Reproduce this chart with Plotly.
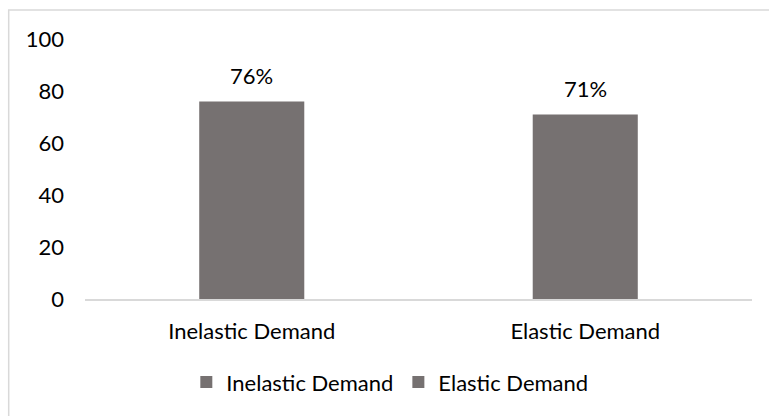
import plotly.graph_objects as go

categories = ["Inelastic Demand", "Elastic Demand"]
values = [76, 71]
y_ticks = [0, 20, 40, 60, 80, 100]

BAR_COLOR = "#767171"
FONT = "Lato"

fig = go.Figure()
for cat, val in zip(categories, values):
    fig.add_trace(go.Bar(
        x=[cat], y=[val], name=cat,
        marker=dict(color=BAR_COLOR, line=dict(width=0)),
        width=0.315,
    ))
    fig.add_annotation(x=cat, y=val, text=f"{val}%", showarrow=False,
                       yanchor="bottom", yshift=10,
                       font=dict(family=FONT, size=22, color="#000000"))

fig.update_layout(
    width=769, height=416,
    margin=dict(l=85, r=17, t=39, b=117),
    paper_bgcolor="white", plot_bgcolor="white",
    barmode="overlay",
    font=dict(family=FONT, size=22, color="#000000"),
    showlegend=True,
    legend=dict(orientation="h", x=0.457, xanchor="center", y=-0.32, yanchor="middle",
                font=dict(family=FONT, size=22, color="#000000"),
                itemwidth=30, tracegroupgap=0),
    xaxis=dict(categoryorder="array", categoryarray=categories,
               showline=True, linecolor="#d9d9d9", linewidth=1.5,
               showgrid=False, ticks="", ticklabelstandoff=12,
               tickfont=dict(family=FONT, size=22, color="#000000"),
               zeroline=False),
    yaxis=dict(range=[0, 100], tickvals=y_ticks, showgrid=False, showline=False,
               zeroline=False, ticks="", ticklabelstandoff=20,
               tickfont=dict(family=FONT, size=22, color="#000000")),
    shapes=[dict(type="rect", xref="paper", yref="paper",
                 x0=-0.1144, x1=1.2, y0=-0.6, y1=1.1115,
                 line=dict(color="#d9d9d9", width=1.5), fillcolor="rgba(0,0,0,0)",
                 layer="below")],
)

fig.write_html("out.html")
